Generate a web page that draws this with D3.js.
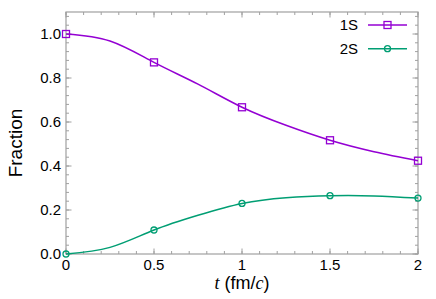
<!DOCTYPE html>
<html>
<head>
<meta charset="utf-8">
<script src="https://cdn.jsdelivr.net/npm/d3@7"></script>
<style>
  body { margin: 0; background: #fff; }
  text { font-family: "Liberation Sans", Arial, sans-serif; fill: #000; }
</style>
</head>
<body>
<svg id="chart" width="436" height="299"></svg>
<script>
// values
const times = [0, 0.25, 0.5, 0.75, 1, 1.25, 1.5, 1.75, 2]
const frac1S = [1.0, 0.968, 0.871, 0.772, 0.667, 0.585, 0.517, 0.465, 0.424]
const frac2S = [0.0, 0.03, 0.109, 0.176, 0.230, 0.256, 0.265, 0.264, 0.254]
const markerTimes = [0, 0.5, 1, 1.5, 2]

const xTicks = [0, 0.5, 1, 1.5, 2]
const xTickLabels = ['0', '0.5', '1', '1.5', '2']
const yTicks = [0, 0.2, 0.4, 0.6, 0.8, 1.0]

const series = [
  { name: '1S', values: frac1S, color: '#9400d3', marker: 'square' },
  { name: '2S', values: frac2S, color: '#009e73', marker: 'circle' }
]

const margin = { top: 12, right: 18, bottom: 45, left: 66 }
const W = 436, H = 299
const width = W - margin.left - margin.right
const height = H - margin.top - margin.bottom

const svg = d3.select('#chart')
const g = svg.append('g').attr('transform', `translate(${margin.left},${margin.top})`)

const x = d3.scaleLinear().domain([0, 2]).range([0, width])
const y = d3.scaleLinear().domain([0, 1.1]).range([height, 0])

const axisColor = '#a0a0a0'

// minor + major ticks on all four sides, pointing inward
const xMinor = d3.range(0, 2.0001, 0.1)
const yMinor = d3.range(0, 1.1001, 0.04)

function tickLines (vals, len, horizontal) {
  vals.forEach(v => {
    if (horizontal) {
      const px = x(v)
      g.append('line').attr('x1', px).attr('x2', px).attr('y1', height).attr('y2', height - len)
        .attr('stroke', axisColor)
      g.append('line').attr('x1', px).attr('x2', px).attr('y1', 0).attr('y2', len)
        .attr('stroke', axisColor)
    } else {
      const py = y(v)
      g.append('line').attr('x1', 0).attr('x2', len).attr('y1', py).attr('y2', py)
        .attr('stroke', axisColor)
      g.append('line').attr('x1', width).attr('x2', width - len).attr('y1', py).attr('y2', py)
        .attr('stroke', axisColor)
    }
  })
}
tickLines(xMinor, 3, true)
tickLines(xTicks, 5.5, true)
tickLines(yMinor, 3, false)
tickLines(yTicks, 5.5, false)

g.append('rect')
  .attr('width', width).attr('height', height)
  .attr('fill', 'none').attr('stroke', axisColor).attr('stroke-width', 1.2)

// tick labels
g.selectAll('.xl').data(xTicks).join('text')
  .attr('x', d => x(d)).attr('y', height + 16)
  .attr('text-anchor', 'middle').attr('font-size', 15)
  .text((d, i) => xTickLabels[i])

g.selectAll('.yl').data(yTicks).join('text')
  .attr('x', -5).attr('y', d => y(d)).attr('dy', '0.36em')
  .attr('text-anchor', 'end').attr('font-size', 15)
  .text(d => d.toFixed(1))

// axis titles
const xt = g.append('text')
  .attr('x', width / 2).attr('y', height + 35)
  .attr('text-anchor', 'middle').attr('font-size', 18)
xt.append('tspan').attr('font-style', 'italic').attr('font-family', '"Liberation Serif", serif').text('t')
xt.append('tspan').text(' (fm/')
xt.append('tspan').attr('font-style', 'italic').attr('font-family', '"Liberation Serif", serif').text('c')
xt.append('tspan').text(')')

g.append('text')
  .attr('transform', `translate(${-44},${height / 2 + 10}) rotate(-90)`)
  .attr('text-anchor', 'middle').attr('font-size', 19)
  .text('Fraction')

// lines
const line = d3.line()
  .curve(d3.curveNatural)
  .x((d, i) => x(times[i]))
  .y(d => y(d))

function drawMarker (sel, type, color) {
  if (type === 'square') {
    sel.append('rect')
      .attr('x', -3.5).attr('y', -3.5).attr('width', 7).attr('height', 7)
      .attr('fill', 'none').attr('stroke', color).attr('stroke-width', 1.3)
  } else {
    sel.append('circle').attr('r', 3)
      .attr('fill', 'none').attr('stroke', color).attr('stroke-width', 1.3)
  }
}

series.forEach(s => {
  g.append('path')
    .attr('d', line(s.values))
    .attr('fill', 'none').attr('stroke', s.color).attr('stroke-width', 1.5)
  times.forEach((t, i) => {
    if (!markerTimes.includes(t)) return
    const m = g.append('g').attr('transform', `translate(${x(t)},${y(s.values[i])})`)
    drawMarker(m, s.marker, s.color)
  })
})

// legend
series.forEach((s, i) => {
  const ly = 13 + i * 23.7
  const lg = g.append('g').attr('transform', `translate(0,${ly})`)
  lg.append('text').attr('x', 292).attr('y', 0).attr('dy', '0.36em')
    .attr('text-anchor', 'end').attr('font-size', 15).text(s.name)
  lg.append('line').attr('x1', 302).attr('x2', 341).attr('y1', 0).attr('y2', 0)
    .attr('stroke', s.color).attr('stroke-width', 1.5)
  const m = lg.append('g').attr('transform', 'translate(321.5,0)')
  drawMarker(m, s.marker, s.color)
})
</script>
</body>
</html>
